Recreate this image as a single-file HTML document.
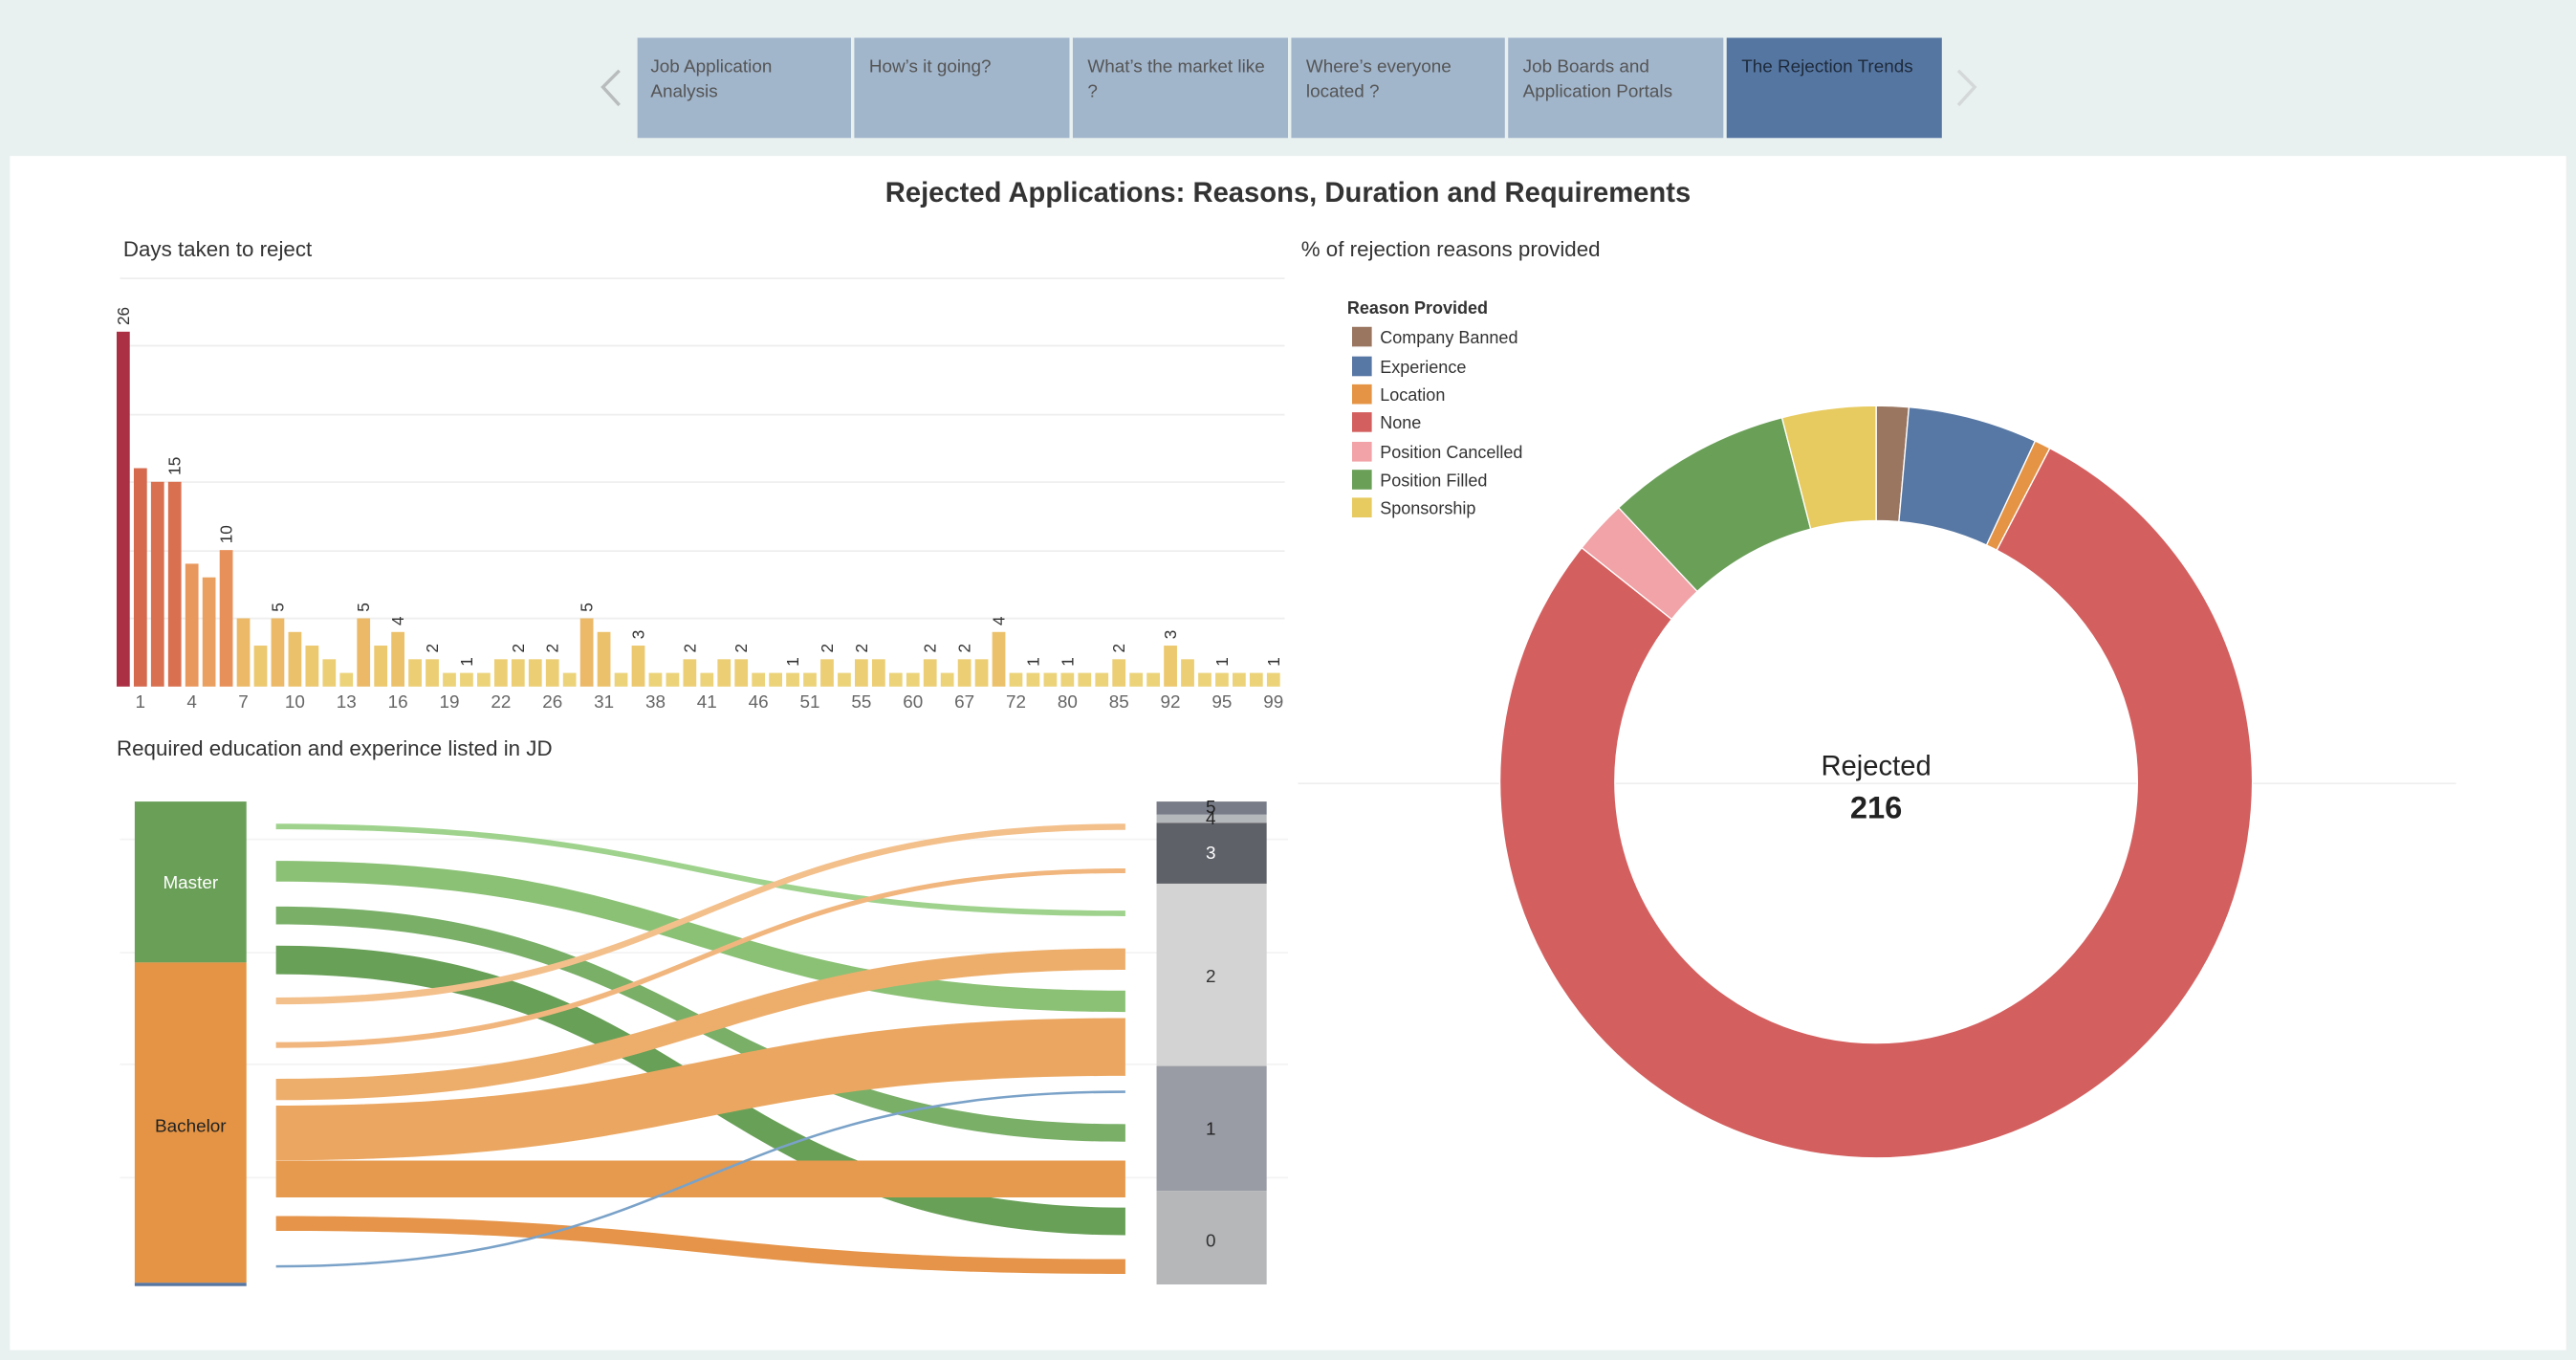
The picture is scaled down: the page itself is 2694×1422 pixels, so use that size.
<!DOCTYPE html>
<html><head><meta charset="utf-8"><style>
html,body{margin:0;padding:0;background:#e9f1f0;}
svg{display:block;}
text{font-family:"Liberation Sans",sans-serif;}
</style></head><body>
<svg id="s" width="2694" height="1422" viewBox="0 0 1568 828" preserveAspectRatio="none" xmlns="http://www.w3.org/2000/svg">
<rect x="0" y="0" width="1568" height="828" fill="#e9f1f0"/>
<rect x="6" y="95" width="1556" height="727" fill="#ffffff"/>
<!-- tabs -->
<g font-size="11" fill="#555">
<rect x="388" y="23" width="130" height="61" fill="#a1b5cb"/>
<rect x="520" y="23" width="131" height="61" fill="#a1b5cb"/>
<rect x="653" y="23" width="131" height="61" fill="#a1b5cb"/>
<rect x="786" y="23" width="130" height="61" fill="#a1b5cb"/>
<rect x="918" y="23" width="131" height="61" fill="#a1b5cb"/>
<rect x="1051" y="23" width="131" height="61" fill="#5676a2"/>
<text x="396" y="44">Job Application</text><text x="396" y="59">Analysis</text>
<text x="529" y="44">How’s it going?</text>
<text x="662" y="44">What’s the market like</text><text x="662" y="59">?</text>
<text x="795" y="44">Where’s everyone</text><text x="795" y="59">located ?</text>
<text x="927" y="44">Job Boards and</text><text x="927" y="59">Application Portals</text>
<text x="1060" y="44" fill="#1d2a3a">The Rejection Trends</text>
</g>
<polyline points="377,43 367,53 377,64" fill="none" stroke="#b8bcbc" stroke-width="2"/>
<polyline points="1192,43 1202,53 1192,64" fill="none" stroke="#d4d8d8" stroke-width="2"/>
<text x="784" y="123" font-size="17" font-weight="bold" fill="#333" text-anchor="middle">Rejected Applications: Reasons, Duration and Requirements</text>
<text x="75" y="156" font-size="13" fill="#333">Days taken to reject</text>
<text x="792" y="156" font-size="13" fill="#333">% of rejection reasons provided</text>
<!-- gridlines -->
<g stroke="#eeeeee" stroke-width="1">
<line x1="73" y1="169.5" x2="782" y2="169.5"/><line x1="73" y1="210.5" x2="782" y2="210.5"/>
<line x1="73" y1="252.5" x2="782" y2="252.5"/><line x1="73" y1="293.5" x2="782" y2="293.5"/>
<line x1="73" y1="335.5" x2="782" y2="335.5"/><line x1="73" y1="376.5" x2="782" y2="376.5"/>
<line x1="790" y1="477" x2="1495" y2="477"/>
</g>
<g id="bars"></g>
<g font-size="10" fill="#333" dominant-baseline="central">
<text transform="translate(75,198) rotate(-90)">26</text>
<text transform="translate(106.35,289.3) rotate(-90)">15</text>
<text transform="translate(137.7,330.9) rotate(-90)">10</text>
<text transform="translate(169.05,372.5) rotate(-90)">5</text>
<text transform="translate(221.3,372.5) rotate(-90)">5</text>
<text transform="translate(242.2,380.8) rotate(-90)">4</text>
<text transform="translate(263.1,397.4) rotate(-90)">2</text>
<text transform="translate(284,405.7) rotate(-90)">1</text>
<text transform="translate(315.35,397.4) rotate(-90)">2</text>
<text transform="translate(336.25,397.4) rotate(-90)">2</text>
<text transform="translate(357.15,372.5) rotate(-90)">5</text>
<text transform="translate(388.5,389.1) rotate(-90)">3</text>
<text transform="translate(419.85,397.4) rotate(-90)">2</text>
<text transform="translate(451.2,397.4) rotate(-90)">2</text>
<text transform="translate(482.55,405.7) rotate(-90)">1</text>
<text transform="translate(503.45,397.4) rotate(-90)">2</text>
<text transform="translate(524.35,397.4) rotate(-90)">2</text>
<text transform="translate(566.15,397.4) rotate(-90)">2</text>
<text transform="translate(587.05,397.4) rotate(-90)">2</text>
<text transform="translate(607.95,380.8) rotate(-90)">4</text>
<text transform="translate(628.85,405.7) rotate(-90)">1</text>
<text transform="translate(649.75,405.7) rotate(-90)">1</text>
<text transform="translate(681.1,397.4) rotate(-90)">2</text>
<text transform="translate(712.45,389.1) rotate(-90)">3</text>
<text transform="translate(743.8,405.7) rotate(-90)">1</text>
<text transform="translate(775.15,405.7) rotate(-90)">1</text>
</g>
<g font-size="11" fill="#666" text-anchor="middle">
<text x="85.45" y="431">1</text><text x="116.8" y="431">4</text><text x="148.15" y="431">7</text>
<text x="179.5" y="431">10</text><text x="210.85" y="431">13</text><text x="242.2" y="431">16</text>
<text x="273.55" y="431">19</text><text x="304.9" y="431">22</text><text x="336.25" y="431">26</text>
<text x="367.6" y="431">31</text><text x="398.95" y="431">38</text><text x="430.3" y="431">41</text>
<text x="461.65" y="431">46</text><text x="493" y="431">51</text><text x="524.35" y="431">55</text>
<text x="555.7" y="431">60</text><text x="587.05" y="431">67</text><text x="618.4" y="431">72</text>
<text x="649.75" y="431">80</text><text x="681.1" y="431">85</text><text x="712.45" y="431">92</text>
<text x="743.8" y="431">95</text><text x="775.15" y="431">99</text>
</g>
<text x="71" y="460" font-size="13" fill="#333">Required education and experince listed in JD</text>
<!-- sankey -->
<g stroke="#f3f3f3" stroke-width="1">
<line x1="73" y1="511" x2="784" y2="511"/><line x1="73" y1="580" x2="784" y2="580"/>
<line x1="73" y1="648" x2="784" y2="648"/><line x1="73" y1="717" x2="784" y2="717"/>
</g>
<rect x="82" y="488" width="68" height="98" fill="#6a9f58"/>
<rect x="82" y="586" width="68" height="195" fill="#e49444"/>
<rect x="82" y="781" width="68" height="2" fill="#5676a2"/>
<text x="116" y="541" font-size="11" fill="#fff" text-anchor="middle">Master</text>
<text x="116" y="689" font-size="11" fill="#222" text-anchor="middle">Bachelor</text>
<g id="flows"></g>
<rect x="704" y="488" width="67" height="8" fill="#777c88"/>
<rect x="704" y="496" width="67" height="5" fill="#b5b8bb"/>
<rect x="704" y="501" width="67" height="37" fill="#5f6169"/>
<rect x="704" y="538" width="67" height="111" fill="#d3d3d3"/>
<rect x="704" y="649" width="67" height="76" fill="#9a9ca5"/>
<rect x="704" y="725" width="67" height="57" fill="#b5b7b9"/>
<g font-size="11" text-anchor="middle">
<text x="737" y="495" fill="#222">5</text><text x="737" y="502" fill="#222">4</text>
<text x="737" y="523" fill="#fff">3</text><text x="737" y="598" fill="#333">2</text>
<text x="737" y="691" fill="#222">1</text><text x="737" y="759" fill="#333">0</text>
</g>
<!-- donut -->
<g id="donut"></g>
<text x="1142" y="472" font-size="17" fill="#222" text-anchor="middle">Rejected</text>
<text x="1142" y="498" font-size="19" font-weight="bold" fill="#222" text-anchor="middle">216</text>
<!-- legend -->
<text x="820" y="191" font-size="10.5" font-weight="bold" fill="#333">Reason Provided</text>
<g font-size="10.5" fill="#333">
<rect x="823" y="199" width="12" height="12" fill="#9a7660"/><text x="840" y="209">Company Banned</text>
<rect x="823" y="217" width="12" height="12" fill="#5778a4"/><text x="840" y="227">Experience</text>
<rect x="823" y="234" width="12" height="12" fill="#e49444"/><text x="840" y="244">Location</text>
<rect x="823" y="251" width="12" height="12" fill="#d45f5f"/><text x="840" y="261">None</text>
<rect x="823" y="269" width="12" height="12" fill="#f1a3a7"/><text x="840" y="279">Position Cancelled</text>
<rect x="823" y="286" width="12" height="12" fill="#6a9f58"/><text x="840" y="296">Position Filled</text>
<rect x="823" y="303" width="12" height="12" fill="#e7ca60"/><text x="840" y="313">Sponsorship</text>
</g>
</svg>
<script>
(function(){
var NS="http://www.w3.org/2000/svg";
function el(p,t,a){var e=document.createElementNS(NS,t);for(var k in a)e.setAttribute(k,a[k]);p.appendChild(e);return e;}
var vals=[26,16,15,15,9,8,10,5,3,5,4,3,2,1,5,3,4,2,2,1,1,1,2,2,2,2,1,5,4,1,3,1,1,2,1,2,2,1,1,1,1,2,1,2,2,1,1,2,1,2,2,4,1,1,1,1,1,1,2,1,1,3,2,1,1,1,1,1];
var stops=[[1,[236,211,122]],[3,[236,200,110]],[5,[235,185,104]],[10,[232,144,90]],[15,[217,112,80]],[26,[172,48,68]]];
function col(v){for(var i=0;i<stops.length-1;i++){var a=stops[i],b=stops[i+1];if(v<=b[0]){var t=(v-a[0])/(b[0]-a[0]);var c=a[1].map(function(x,j){return Math.round(x+(b[1][j]-x)*t);});return "rgb("+c.join(",")+")";}}return "rgb(172,48,68)";}
var g=document.getElementById("bars");
vals.forEach(function(v,i){var cx=75+i*10.45,h=v*8.31;el(g,"rect",{x:cx-4,y:418-h,width:8,height:h,fill:col(v)});});
var f=document.getElementById("flows");
var x0=168,x1=685,xm=(x0+x1)/2;
var fl=[
[501.5,504.9,554.4,557.8,"#9fd38d"],
[524.1,536.7,603.1,616.1,"#8bc175"],
[551.9,562.8,684.4,695.1,"#79af67"],
[575.7,593.1,735.2,752,"#68a057"],
[607.3,611.5,501.5,505.3,"#f3c08c"],
[634.5,638,528.7,531.6,"#f1b67e"],
[656.8,669.8,577.4,590.4,"#edae6c"],
[673.1,706.4,619.8,655,"#eba761"],
[706.6,729,706.6,729,"#e69a4e"],
[740.4,749.4,766.6,775.6,"#e59449"]];
fl.forEach(function(a){el(f,"path",{d:"M"+x0+","+a[0]+" C"+xm+","+a[0]+" "+xm+","+a[2]+" "+x1+","+a[2]+" L"+x1+","+a[3]+" C"+xm+","+a[3]+" "+xm+","+a[1]+" "+x0+","+a[1]+" Z",fill:a[4]});});
el(f,"path",{d:"M168,771 C426.5,771 426.5,664.7 685,664.7",fill:"none",stroke:"#7aa2c8","stroke-width":1.5});
var d=document.getElementById("donut");
var cx=1142,cy=476,R=229,r=159;
function pt(rad,ang){var a=(ang-90)*Math.PI/180;return [cx+rad*Math.cos(a),cy+rad*Math.sin(a)];}
var segs=[[0,5,"#9a7660"],[5,25,"#5778a4"],[25,27.5,"#e49444"],[27.5,308.5,"#d45f5f"],[308.5,316.8,"#f1a3a7"],[316.8,345.5,"#6a9f58"],[345.5,360,"#e7ca60"]];
segs.forEach(function(s){var la=(s[1]-s[0])>180?1:0;var p1=pt(R,s[0]),p2=pt(R,s[1]),p3=pt(r,s[1]),p4=pt(r,s[0]);
el(d,"path",{d:"M"+p1+" A"+R+","+R+" 0 "+la+" 1 "+p2+" L"+p3+" A"+r+","+r+" 0 "+la+" 0 "+p4+" Z",fill:s[2],stroke:"#fff","stroke-width":0.8});});
})();
</script>
</body></html>
